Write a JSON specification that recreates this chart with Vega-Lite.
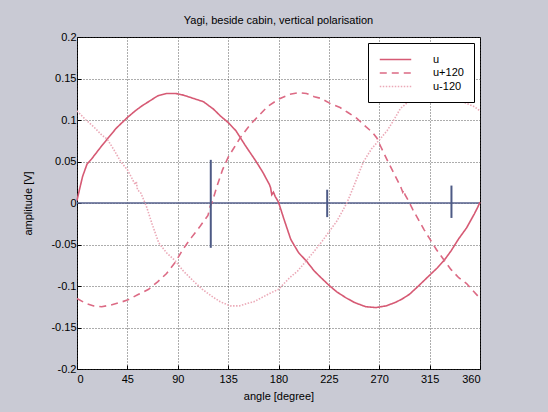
{
  "$schema": "https://vega.github.io/schema/vega-lite/v6.json",
  "width": 403,
  "height": 332,
  "autosize": "none",
  "padding": {"left": 77, "top": 37, "right": 68, "bottom": 43},
  "background": "#c9cad4",
  "title": {"text": "Yagi, beside cabin, vertical polarisation", "font": "Liberation Sans", "fontSize": 11, "fontWeight": "normal", "color": "#000", "offset": 5},
  "config": {
    "view": {"fill": "white", "stroke": "#000", "strokeWidth": 1},
    "axis": {"labelFont": "Liberation Sans", "titleFont": "Liberation Sans", "labelFontSize": 11, "titleFontSize": 11, "titleFontWeight": "normal", "labelColor": "#000", "titleColor": "#000", "domain": false, "tickColor": "#000", "tickSize": -4, "grid": true, "gridColor": "#333", "gridDash": [1, 2], "gridOpacity": 0.8}
  },
  "datasets": {
    "curves": [
      {"series": "u", "angle": 0, "v": 0.003}, {"series": "u", "angle": 2, "v": 0.015}, {"series": "u", "angle": 5, "v": 0.032}, {"series": "u", "angle": 9, "v": 0.047}, {"series": "u", "angle": 13, "v": 0.053}, {"series": "u", "angle": 17, "v": 0.06}, {"series": "u", "angle": 21, "v": 0.067}, {"series": "u", "angle": 27, "v": 0.077}, {"series": "u", "angle": 35, "v": 0.09}, {"series": "u", "angle": 45, "v": 0.103}, {"series": "u", "angle": 52, "v": 0.111}, {"series": "u", "angle": 58, "v": 0.117}, {"series": "u", "angle": 65, "v": 0.123}, {"series": "u", "angle": 72, "v": 0.129}, {"series": "u", "angle": 80, "v": 0.132}, {"series": "u", "angle": 88, "v": 0.132}, {"series": "u", "angle": 95, "v": 0.13}, {"series": "u", "angle": 104, "v": 0.126}, {"series": "u", "angle": 113, "v": 0.122}, {"series": "u", "angle": 122, "v": 0.113}, {"series": "u", "angle": 128, "v": 0.105}, {"series": "u", "angle": 135, "v": 0.097}, {"series": "u", "angle": 142, "v": 0.087}, {"series": "u", "angle": 150, "v": 0.07}, {"series": "u", "angle": 160, "v": 0.05}, {"series": "u", "angle": 166, "v": 0.037}, {"series": "u", "angle": 172, "v": 0.022}, {"series": "u", "angle": 173, "v": 0.018}, {"series": "u", "angle": 174, "v": 0.01}, {"series": "u", "angle": 175.5, "v": 0.013}, {"series": "u", "angle": 177, "v": 0.008}, {"series": "u", "angle": 180, "v": 0.001}, {"series": "u", "angle": 185, "v": -0.02}, {"series": "u", "angle": 191, "v": -0.044}, {"series": "u", "angle": 198, "v": -0.06}, {"series": "u", "angle": 205, "v": -0.07}, {"series": "u", "angle": 212, "v": -0.082}, {"series": "u", "angle": 218, "v": -0.09}, {"series": "u", "angle": 225, "v": -0.099}, {"series": "u", "angle": 232, "v": -0.107}, {"series": "u", "angle": 240, "v": -0.114}, {"series": "u", "angle": 248, "v": -0.12}, {"series": "u", "angle": 258, "v": -0.125}, {"series": "u", "angle": 267, "v": -0.126}, {"series": "u", "angle": 276, "v": -0.124}, {"series": "u", "angle": 284, "v": -0.12}, {"series": "u", "angle": 290, "v": -0.116}, {"series": "u", "angle": 297, "v": -0.11}, {"series": "u", "angle": 305, "v": -0.1}, {"series": "u", "angle": 315, "v": -0.087}, {"series": "u", "angle": 322, "v": -0.078}, {"series": "u", "angle": 328, "v": -0.069}, {"series": "u", "angle": 334, "v": -0.058}, {"series": "u", "angle": 341, "v": -0.043}, {"series": "u", "angle": 348, "v": -0.03}, {"series": "u", "angle": 355, "v": -0.013}, {"series": "u", "angle": 358, "v": -0.005}, {"series": "u", "angle": 360, "v": 0.001},
      {"series": "u+120", "angle": 0, "v": -0.115}, {"series": "u+120", "angle": 8, "v": -0.121}, {"series": "u+120", "angle": 15, "v": -0.124}, {"series": "u+120", "angle": 22, "v": -0.125}, {"series": "u+120", "angle": 30, "v": -0.123}, {"series": "u+120", "angle": 38, "v": -0.12}, {"series": "u+120", "angle": 45, "v": -0.117}, {"series": "u+120", "angle": 55, "v": -0.11}, {"series": "u+120", "angle": 64, "v": -0.104}, {"series": "u+120", "angle": 72, "v": -0.095}, {"series": "u+120", "angle": 80, "v": -0.085}, {"series": "u+120", "angle": 88, "v": -0.071}, {"series": "u+120", "angle": 95, "v": -0.055}, {"series": "u+120", "angle": 102, "v": -0.042}, {"series": "u+120", "angle": 110, "v": -0.028}, {"series": "u+120", "angle": 117, "v": -0.015}, {"series": "u+120", "angle": 119, "v": -0.004}, {"series": "u+120", "angle": 121, "v": 0.002}, {"series": "u+120", "angle": 125, "v": 0.02}, {"series": "u+120", "angle": 130, "v": 0.04}, {"series": "u+120", "angle": 135, "v": 0.055}, {"series": "u+120", "angle": 140, "v": 0.066}, {"series": "u+120", "angle": 146, "v": 0.079}, {"series": "u+120", "angle": 155, "v": 0.095}, {"series": "u+120", "angle": 163, "v": 0.106}, {"series": "u+120", "angle": 170, "v": 0.116}, {"series": "u+120", "angle": 180, "v": 0.125}, {"series": "u+120", "angle": 190, "v": 0.131}, {"series": "u+120", "angle": 198, "v": 0.133}, {"series": "u+120", "angle": 205, "v": 0.132}, {"series": "u+120", "angle": 212, "v": 0.128}, {"series": "u+120", "angle": 218, "v": 0.126}, {"series": "u+120", "angle": 226, "v": 0.12}, {"series": "u+120", "angle": 235, "v": 0.115}, {"series": "u+120", "angle": 242, "v": 0.109}, {"series": "u+120", "angle": 250, "v": 0.102}, {"series": "u+120", "angle": 258, "v": 0.092}, {"series": "u+120", "angle": 264, "v": 0.085}, {"series": "u+120", "angle": 268, "v": 0.078}, {"series": "u+120", "angle": 272, "v": 0.066}, {"series": "u+120", "angle": 277, "v": 0.052}, {"series": "u+120", "angle": 283, "v": 0.036}, {"series": "u+120", "angle": 289, "v": 0.02}, {"series": "u+120", "angle": 291, "v": 0.013}, {"series": "u+120", "angle": 292, "v": 0.016}, {"series": "u+120", "angle": 293, "v": 0.01}, {"series": "u+120", "angle": 296, "v": 0.003}, {"series": "u+120", "angle": 300, "v": -0.008}, {"series": "u+120", "angle": 305, "v": -0.02}, {"series": "u+120", "angle": 310, "v": -0.032}, {"series": "u+120", "angle": 315, "v": -0.043}, {"series": "u+120", "angle": 321, "v": -0.056}, {"series": "u+120", "angle": 328, "v": -0.069}, {"series": "u+120", "angle": 334, "v": -0.08}, {"series": "u+120", "angle": 341, "v": -0.09}, {"series": "u+120", "angle": 348, "v": -0.097}, {"series": "u+120", "angle": 354, "v": -0.106}, {"series": "u+120", "angle": 360, "v": -0.115},
      {"series": "u-120", "angle": 0, "v": 0.111}, {"series": "u-120", "angle": 8, "v": 0.1}, {"series": "u-120", "angle": 15.5, "v": 0.091}, {"series": "u-120", "angle": 22, "v": 0.082}, {"series": "u-120", "angle": 27, "v": 0.077}, {"series": "u-120", "angle": 33, "v": 0.064}, {"series": "u-120", "angle": 39, "v": 0.05}, {"series": "u-120", "angle": 45, "v": 0.04}, {"series": "u-120", "angle": 49, "v": 0.03}, {"series": "u-120", "angle": 52, "v": 0.022}, {"series": "u-120", "angle": 53, "v": 0.026}, {"series": "u-120", "angle": 54, "v": 0.016}, {"series": "u-120", "angle": 57, "v": 0.012}, {"series": "u-120", "angle": 62, "v": -0.004}, {"series": "u-120", "angle": 67, "v": -0.025}, {"series": "u-120", "angle": 73, "v": -0.048}, {"series": "u-120", "angle": 80, "v": -0.06}, {"series": "u-120", "angle": 88, "v": -0.07}, {"series": "u-120", "angle": 95, "v": -0.082}, {"series": "u-120", "angle": 104, "v": -0.094}, {"series": "u-120", "angle": 112, "v": -0.104}, {"series": "u-120", "angle": 120, "v": -0.112}, {"series": "u-120", "angle": 128, "v": -0.119}, {"series": "u-120", "angle": 137, "v": -0.124}, {"series": "u-120", "angle": 145, "v": -0.124}, {"series": "u-120", "angle": 152, "v": -0.121}, {"series": "u-120", "angle": 158, "v": -0.119}, {"series": "u-120", "angle": 165, "v": -0.114}, {"series": "u-120", "angle": 172, "v": -0.109}, {"series": "u-120", "angle": 180, "v": -0.104}, {"series": "u-120", "angle": 190, "v": -0.09}, {"series": "u-120", "angle": 197, "v": -0.082}, {"series": "u-120", "angle": 204, "v": -0.071}, {"series": "u-120", "angle": 212, "v": -0.058}, {"series": "u-120", "angle": 219, "v": -0.046}, {"series": "u-120", "angle": 225, "v": -0.035}, {"series": "u-120", "angle": 232, "v": -0.022}, {"series": "u-120", "angle": 237, "v": -0.01}, {"series": "u-120", "angle": 241, "v": 0.0}, {"series": "u-120", "angle": 246, "v": 0.016}, {"series": "u-120", "angle": 251, "v": 0.033}, {"series": "u-120", "angle": 256, "v": 0.05}, {"series": "u-120", "angle": 263, "v": 0.065}, {"series": "u-120", "angle": 270, "v": 0.076}, {"series": "u-120", "angle": 277, "v": 0.087}, {"series": "u-120", "angle": 283, "v": 0.1}, {"series": "u-120", "angle": 289, "v": 0.114}, {"series": "u-120", "angle": 296, "v": 0.122}, {"series": "u-120", "angle": 302, "v": 0.127}, {"series": "u-120", "angle": 310, "v": 0.13}, {"series": "u-120", "angle": 320, "v": 0.131}, {"series": "u-120", "angle": 330, "v": 0.13}, {"series": "u-120", "angle": 340, "v": 0.125}, {"series": "u-120", "angle": 348, "v": 0.12}, {"series": "u-120", "angle": 355, "v": 0.116}, {"series": "u-120", "angle": 360, "v": 0.111}
    ],
    "markers": [
      {"angle": 119.5, "lo": -0.054, "hi": 0.052},
      {"angle": 223.5, "lo": -0.017, "hi": 0.016},
      {"angle": 334.5, "lo": -0.018, "hi": 0.021}
    ],
    "zero": [{"a0": 0, "a1": 360, "v": 0}]
  },
  "layer": [
    {
      "data": {"name": "zero"},
      "mark": {"type": "rule", "color": "#56608c", "strokeWidth": 1.5},
      "encoding": {
        "x": {"field": "a0", "type": "quantitative", "scale": {"domain": [0, 360], "nice": false}, "axis": {"values": [0, 45, 90, 135, 180, 225, 270, 315, 360], "title": "angle [degree]", "labelPadding": 8, "titlePadding": 6}},
        "x2": {"field": "a1"},
        "y": {"field": "v", "type": "quantitative", "scale": {"domain": [-0.2, 0.2], "nice": false}, "axis": {"values": [-0.2, -0.15, -0.1, -0.05, 0, 0.05, 0.1, 0.15, 0.2], "labelExpr": "'' + datum.value", "title": "amplitude [V]", "labelPadding": 5, "titlePadding": 17}}
      }
    },
    {
      "data": {"name": "curves"},
      "mark": {"type": "line"},
      "encoding": {
        "x": {"field": "angle", "type": "quantitative"},
        "y": {"field": "v", "type": "quantitative"},
        "color": {"field": "series", "type": "nominal", "scale": {"domain": ["u", "u+120", "u-120"], "range": ["#d65a74", "#dc6a84", "#eba9b7"]}, "legend": {"title": null, "orient": "none", "legendX": 291, "legendY": 6, "fillColor": "white", "strokeColor": "#000", "padding": 10, "symbolType": "M-3,0H3", "symbolSize": 110, "symbolStrokeWidth": 1.5, "labelFont": "Liberation Sans", "labelFontSize": 11, "labelColor": "#000", "labelOffset": 31, "rowPadding": 1.5, "symbolOffset": 11}},
        "strokeDash": {"field": "series", "type": "nominal", "scale": {"domain": ["u", "u+120", "u-120"], "range": [[1, 0], [7, 5], [1.5, 1.5]]}, "legend": null},
        "strokeWidth": {"field": "series", "type": "nominal", "scale": {"domain": ["u", "u+120", "u-120"], "range": [1.6, 1.6, 1.1]}, "legend": null}
      }
    },
    {
      "data": {"name": "markers"},
      "mark": {"type": "rule", "color": "#4d5a85", "strokeWidth": 2},
      "encoding": {
        "x": {"field": "angle", "type": "quantitative"},
        "y": {"field": "lo", "type": "quantitative"},
        "y2": {"field": "hi"}
      }
    }
  ]
}
